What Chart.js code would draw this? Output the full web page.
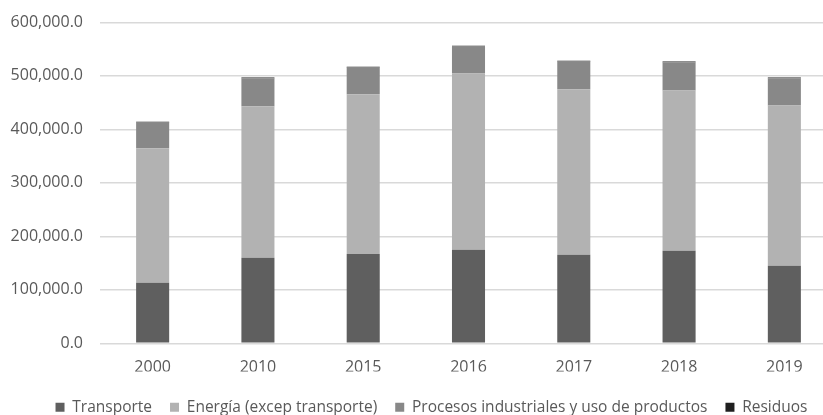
<!DOCTYPE html>
<html>
<head>
<meta charset="utf-8">
<script src="https://cdn.jsdelivr.net/npm/chart.js@4"></script>
<style>
    html, body { margin: 0; padding: 0; background: #fff; overflow: hidden; }
    #wrap { width: 860px; height: 415px; }
</style>
</head>
<body>
<div id="wrap"><canvas id="chart"></canvas></div>
<script>
const years = ['2000', '2010', '2015', '2016', '2017', '2018', '2019'];
const transporte = [113000, 160000, 166800, 174800, 165500, 172900, 144900];
const energia = [251700, 283000, 298700, 329400, 309400, 299600, 299500];
const procesos = [48000, 52300, 49900, 50400, 51700, 52800, 51000];
const residuos = [1200, 1300, 1400, 1500, 1400, 1400, 1300];
const yTicks = [0, 100000, 200000, 300000, 400000, 500000, 600000];

document.addEventListener('DOMContentLoaded', function() {
    showChart();
});

function makeSet(label, data, color) {
    return {
        label: label,
        data: data,
        backgroundColor: color,
        borderWidth: 0,
        categoryPercentage: 0.314,
        barPercentage: 1
    };
}

// move the legend a bit, like the original
const legendShift = {
    id: 'legendShift',
    afterLayout: function(chart) {
        const lg = chart.legend;
        lg.left += 13;
        lg.right += 13;
        lg.top += 10;
        lg.bottom += 10;
    }
};

function showChart() {
    const ctx = document.getElementById('chart').getContext('2d');
    const textColor = '#595959';
    const font = { family: 'Open Sans', size: 16 };
    new Chart(ctx, {
        type: 'bar',
        data: {
            labels: years,
            datasets: [
                makeSet('Transporte', transporte, '#5f5f5f'),
                makeSet('Energía (excep transporte)', energia, '#b2b2b2'),
                makeSet('Procesos industriales y uso de productos', procesos, '#888888'),
                makeSet('Residuos', residuos, '#1f1f1f')
            ]
        },
        plugins: [legendShift],
        options: {
            responsive: true,
            maintainAspectRatio: false,
            animation: false,
            layout: { padding: { top: 22.3, right: 23, left: 0, bottom: 0 } },
            plugins: {
                tooltip: { enabled: false },
                legend: {
                    position: 'bottom',
                    labels: {
                        boxWidth: 9,
                        boxHeight: 9,
                        padding: 18,
                        color: textColor,
                        font: { family: 'Open Sans', size: 15.5 }
                    }
                }
            },
            scales: {
                x: {
                    stacked: true,
                    afterFit: function(scale) { scale.height = 28.2; },
                    grid: { display: false, drawTicks: false },
                    border: { display: false },
                    ticks: { color: textColor, font: font, padding: 15 }
                },
                y: {
                    stacked: true,
                    min: 0,
                    max: 600000,
                    afterFit: function(scale) {
                        scale.width = 100;
                        scale.paddingTop = 0;
                        scale.paddingBottom = 0;
                    },
                    afterBuildTicks: function(scale) {
                        scale.ticks = yTicks.map(v => ({ value: v }));
                    },
                    grid: { color: '#d9d9d9', lineWidth: 1.5, drawTicks: false },
                    border: { display: false },
                    ticks: {
                        color: textColor,
                        font: font,
                        padding: 17,
                        callback: function(value) {
                            return value.toLocaleString('en-US', { minimumFractionDigits: 1, maximumFractionDigits: 1 });
                        }
                    }
                }
            }
        }
    });
}
</script>
</body>
</html>
